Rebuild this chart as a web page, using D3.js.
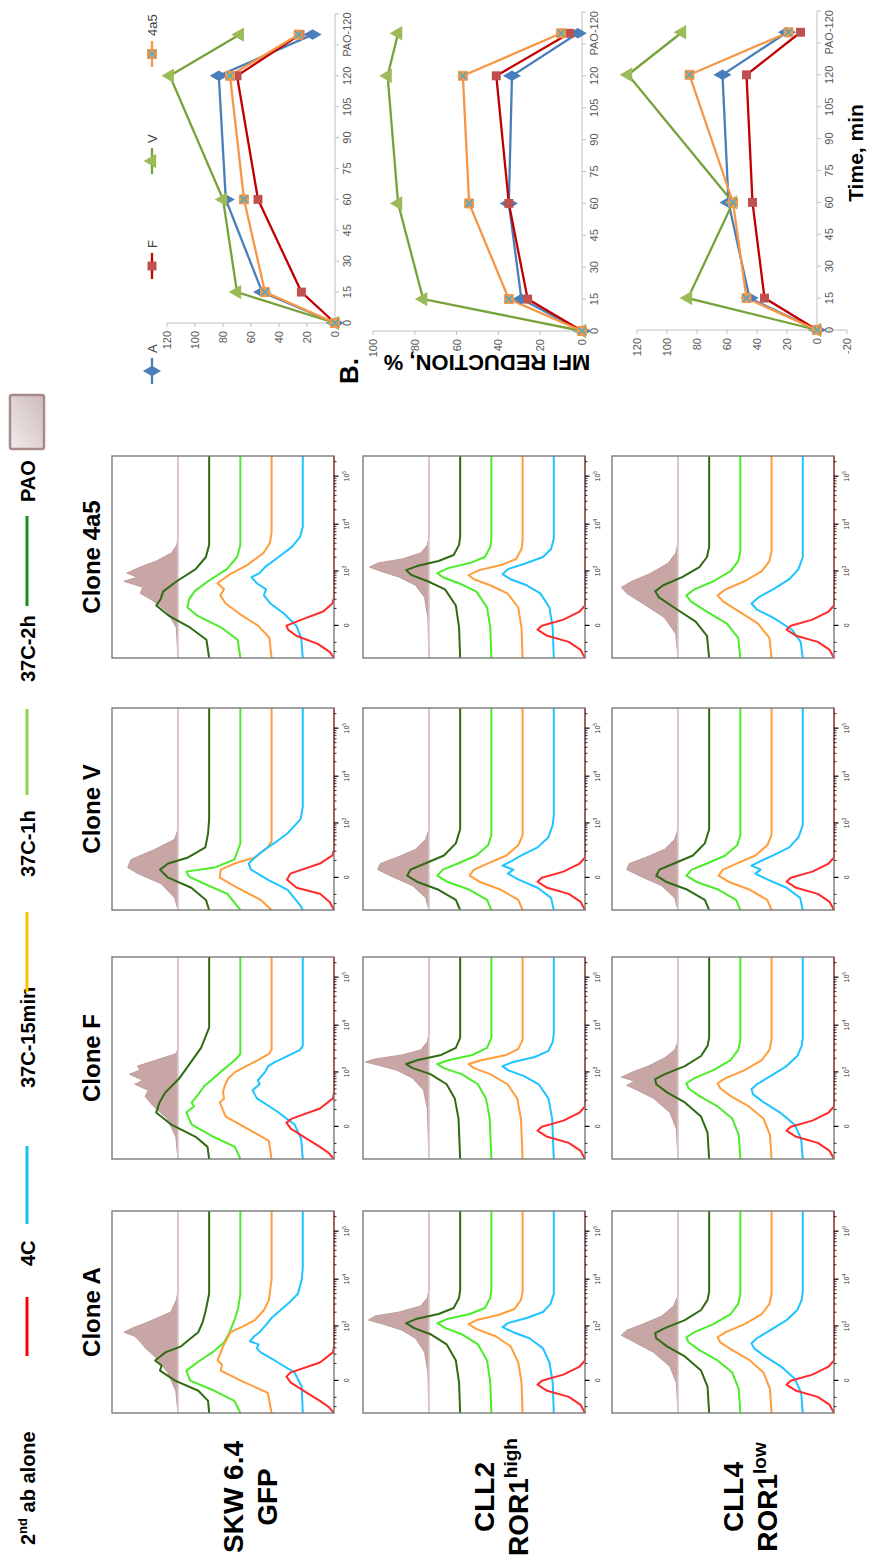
<!DOCTYPE html>
<html><head><meta charset="utf-8">
<script src="https://cdn.jsdelivr.net/npm/d3@7"></script>
<style>body{margin:0;background:#fff}svg{display:block}</style>
</head><body>
<script>
// ---------- Flow histograms (A) ----------
const legendLabels = ["2nd ab alone", "4C", "37C-15min", "37C-1h", "37C-2h", "PAO"];
const columnNames = ["Clone A", "Clone F", "Clone V", "Clone 4a5"];
const rowNames = [["SKW 6.4", "GFP", ""], ["CLL2", "ROR1", "high"], ["CLL4", "ROR1", "low"]];
const axisMajor = [0, 1e3, 1e4, 1e5];
const axisMajorExp = ["", "3", "4", "5"];
const axisMinor = [-200, -100, 100, 200, 300, 400, 500, 600, 700, 800, 900,
  2e3, 3e3, 4e3, 5e3, 6e3, 7e3, 8e3, 9e3, 2e4, 3e4, 4e4, 5e4, 6e4, 7e4, 8e4, 9e4, 2e5];

// each histogram: [channel, % of mode, ...]; order red, blue, orange, light green, dark green, PAO
const hSkwA = [
  [0,0, 30,10, 60,26, 100,50, 150,80, 180,88, 200,81, 250,26, 300,2, 330,0, 1000,0],
  [0,0, 130,2, 200,15, 260,52, 300,78, 320,85, 340,82, 355,98, 380,90, 400,80, 430,70, 470,58, 510,41, 550,24, 590,9, 660,2, 720,0, 1000,0],
  [0,0, 100,7, 160,57, 210,94, 240,92, 260,100, 300,94, 330,90, 360,84, 400,76, 430,52, 460,31, 510,14, 560,5, 660,0, 1000,0],
  [0,0, 60,11, 110,48, 160,93, 210,100, 250,80, 300,52, 350,30, 400,20, 460,11, 520,4, 590,0, 1000,0],
  [0,0, 60,2, 110,20, 160,63, 210,91, 235,88, 260,100, 300,81, 330,52, 370,34, 400,20, 450,12, 500,7, 590,0, 1000,0],
  [0,0, 110,4, 200,19, 280,43, 320,60, 350,69, 380,80, 400,100, 420,85, 450,56, 480,30, 500,13, 560,3, 600,0, 1000,0]
];
const hSkwF = [
  [0,0, 30,10, 60,26, 100,50, 150,80, 180,88, 200,78, 250,26, 300,2, 330,0, 1000,0],
  [0,0, 100,3, 170,15, 240,50, 300,85, 340,93, 370,80, 390,83, 430,70, 460,64, 480,52, 520,20, 540,5, 560,0, 1000,0],
  [0,0, 90,5, 150,45, 210,85, 280,96, 300,88, 330,90, 360,87, 400,80, 430,68, 490,25, 520,5, 540,0, 1000,0],
  [0,0, 60,10, 110,50, 170,90, 230,100, 260,86, 280,90, 320,78, 360,67, 430,37, 490,10, 520,0, 1000,0],
  [0,0, 60,3, 110,25, 170,70, 230,98, 280,92, 330,81, 400,55, 460,39, 550,15, 650,0, 1000,0],
  [0,0, 110,4, 200,20, 260,45, 310,61, 340,55, 370,80, 390,65, 420,90, 440,70, 460,75, 490,40, 520,5, 540,0, 1000,0]
];
const hSkwV = [
  [0,0, 40,8, 80,26, 110,69, 150,87, 180,81, 230,26, 270,3, 300,0, 1000,0],
  [0,0, 20,4, 100,28, 150,65, 200,96, 230,100, 260,89, 280,80, 310,65, 340,48, 380,28, 450,4, 510,0, 1000,0],
  [0,0, 50,20, 110,63, 160,96, 200,94, 230,69, 260,31, 310,7, 340,0, 1000,0],
  [0,0, 80,24, 130,67, 165,95, 190,100, 210,48, 250,11, 330,0, 1000,0],
  [0,0, 50,6, 110,33, 160,76, 200,91, 230,76, 260,39, 310,7, 380,2, 450,0, 1000,0],
  [0,0, 60,6, 130,31, 180,74, 210,93, 250,87, 300,43, 350,6, 400,0, 1000,0]
];
const hSkw4a5 = [
  [0,0, 30,8, 70,30, 110,70, 140,85, 160,88, 190,60, 230,20, 270,3, 300,0, 1000,0],
  [0,0, 100,3, 160,12, 220,35, 270,60, 310,72, 340,68, 370,85, 400,95, 420,80, 450,70, 500,45, 550,20, 600,5, 650,0, 1000,0],
  [0,0, 100,4, 160,25, 220,60, 270,85, 310,95, 340,88, 370,100, 410,80, 460,45, 520,15, 570,3, 620,0, 1000,0],
  [0,0, 90,5, 150,35, 210,80, 250,98, 290,95, 330,85, 380,60, 440,25, 500,6, 560,0, 1000,0],
  [0,0, 90,5, 150,35, 210,75, 260,98, 290,90, 330,85, 380,60, 440,25, 500,6, 560,0, 1000,0],
  [0,0, 150,3, 230,20, 290,50, 320,70, 350,65, 380,100, 400,75, 420,95, 450,70, 480,40, 520,12, 560,2, 600,0, 1000,0]
];
const hCll2A = [
  [0,0, 40,8, 80,30, 110,70, 140,88, 160,80, 190,40, 230,10, 260,0, 1000,0],
  [0,0, 150,2, 250,8, 320,20, 370,45, 400,75, 425,95, 445,85, 470,50, 500,20, 540,6, 590,0, 1000,0],
  [0,0, 150,2, 250,8, 330,22, 380,50, 415,85, 440,100, 460,85, 485,45, 515,15, 560,3, 600,0, 1000,0],
  [0,0, 150,2, 260,8, 340,25, 390,55, 420,85, 445,100, 465,82, 490,40, 520,12, 570,2, 610,0, 1000,0],
  [0,0, 150,2, 260,8, 340,25, 390,55, 420,85, 445,100, 465,82, 490,40, 520,12, 570,2, 610,0, 1000,0],
  [0,0, 200,2, 300,8, 370,25, 410,50, 440,85, 460,112, 480,100, 500,55, 530,15, 570,3, 610,0, 1000,0]
];
const hCll2F = [
  [0,0, 40,8, 80,30, 110,70, 140,88, 160,80, 190,40, 230,10, 260,0, 1000,0],
  [0,0, 200,3, 300,10, 370,28, 410,55, 440,85, 460,95, 480,75, 505,35, 535,10, 580,2, 620,0, 1000,0],
  [0,0, 200,3, 300,10, 370,28, 420,60, 450,90, 470,100, 490,75, 515,30, 545,8, 590,0, 1000,0],
  [0,0, 200,3, 300,10, 370,25, 420,55, 450,88, 470,100, 490,78, 515,35, 550,8, 600,0, 1000,0],
  [0,0, 200,3, 300,10, 370,25, 420,55, 450,88, 470,100, 490,78, 515,35, 550,8, 600,0, 1000,0],
  [0,0, 250,3, 340,10, 400,30, 440,60, 465,95, 480,118, 495,100, 515,50, 540,15, 580,3, 620,0, 1000,0]
];
const hCll2V = [
  [0,0, 40,8, 80,30, 110,70, 140,88, 160,80, 190,40, 230,10, 260,0, 1000,0],
  [0,0, 60,5, 110,30, 150,65, 180,85, 200,75, 220,95, 240,80, 270,60, 310,30, 360,10, 420,2, 470,0, 1000,0],
  [0,0, 50,8, 100,40, 140,80, 170,98, 200,90, 230,65, 270,30, 320,8, 370,0, 1000,0],
  [0,0, 50,8, 100,40, 140,82, 170,100, 200,90, 230,62, 270,28, 320,6, 370,0, 1000,0],
  [0,0, 50,8, 100,40, 140,80, 170,98, 200,92, 230,65, 270,30, 330,8, 400,0, 1000,0],
  [0,0, 60,6, 120,30, 170,72, 200,95, 230,90, 260,60, 300,25, 350,6, 400,0, 1000,0]
];
const hCll2_4a5 = [
  [0,0, 40,8, 80,30, 110,70, 140,88, 160,80, 190,40, 230,10, 260,0, 1000,0],
  [0,0, 150,2, 250,8, 320,25, 360,50, 390,80, 415,95, 440,85, 470,50, 500,20, 540,5, 590,0, 1000,0],
  [0,0, 150,2, 250,8, 320,28, 360,60, 390,90, 410,100, 435,80, 460,40, 490,12, 540,2, 580,0, 1000,0],
  [0,0, 150,2, 250,8, 330,28, 370,60, 400,90, 420,100, 445,80, 470,40, 500,12, 550,2, 590,0, 1000,0],
  [0,0, 150,2, 260,8, 340,28, 380,60, 410,90, 435,100, 455,80, 480,40, 510,12, 560,2, 600,0, 1000,0],
  [0,0, 200,2, 300,8, 360,25, 400,55, 430,90, 450,110, 470,95, 490,50, 520,15, 560,3, 600,0, 1000,0]
];
const hCll4A = [
  [0,0, 40,8, 80,30, 110,70, 140,88, 160,80, 190,40, 230,10, 260,0, 1000,0],
  [0,0, 100,3, 170,15, 230,40, 280,70, 320,90, 345,95, 370,85, 410,60, 460,30, 510,10, 560,2, 600,0, 1000,0],
  [0,0, 120,3, 200,15, 260,40, 310,72, 350,95, 375,100, 400,85, 440,50, 490,18, 540,4, 590,0, 1000,0],
  [0,0, 120,3, 200,15, 260,42, 310,75, 350,96, 375,100, 400,85, 440,50, 490,18, 540,4, 590,0, 1000,0],
  [0,0, 130,3, 210,15, 280,45, 330,78, 370,98, 395,100, 420,82, 460,45, 510,15, 560,3, 600,0, 1000,0],
  [0,0, 150,3, 230,15, 300,45, 350,80, 385,105, 410,95, 440,65, 480,30, 530,8, 580,0, 1000,0]
];
const hCll4F = [
  [0,0, 40,8, 80,30, 110,70, 140,88, 160,80, 190,40, 230,10, 260,0, 1000,0],
  [0,0, 100,3, 170,15, 230,42, 280,72, 320,92, 345,95, 370,85, 410,60, 460,30, 510,10, 560,2, 600,0, 1000,0],
  [0,0, 120,3, 200,15, 260,42, 310,75, 350,95, 375,100, 400,85, 440,50, 490,18, 540,4, 590,0, 1000,0],
  [0,0, 120,3, 200,15, 260,42, 310,75, 350,96, 375,100, 400,85, 440,50, 490,18, 540,4, 590,0, 1000,0],
  [0,0, 130,3, 210,15, 280,45, 330,78, 370,98, 395,100, 420,82, 460,45, 510,15, 560,3, 600,0, 1000,0],
  [0,0, 150,3, 230,15, 300,45, 340,75, 365,95, 385,80, 405,105, 430,85, 460,55, 500,25, 540,6, 580,0, 1000,0]
];
const hCll4V = [
  [0,0, 40,8, 80,30, 110,70, 140,88, 160,80, 190,40, 230,10, 260,0, 1000,0],
  [0,0, 60,5, 110,30, 150,65, 180,88, 200,78, 220,95, 240,80, 270,55, 310,25, 360,8, 420,0, 1000,0],
  [0,0, 50,8, 100,40, 140,80, 170,98, 200,90, 230,65, 270,30, 320,8, 370,0, 1000,0],
  [0,0, 50,8, 100,40, 140,82, 170,100, 200,90, 230,62, 270,28, 320,6, 370,0, 1000,0],
  [0,0, 50,8, 100,40, 140,80, 170,98, 200,92, 230,65, 270,30, 330,8, 400,0, 1000,0],
  [0,0, 60,6, 120,30, 170,72, 200,95, 230,90, 260,60, 300,25, 350,6, 400,0, 1000,0]
];
const hCll4_4a5 = [
  [0,0, 40,8, 80,30, 110,70, 140,88, 160,80, 190,40, 230,10, 260,0, 1000,0],
  [0,0, 80,4, 140,20, 200,55, 240,85, 270,95, 300,82, 340,55, 390,25, 440,8, 500,0, 1000,0],
  [0,0, 100,4, 170,25, 230,60, 280,90, 310,100, 340,85, 380,50, 430,18, 480,4, 530,0, 1000,0],
  [0,0, 100,4, 170,25, 230,62, 280,92, 310,100, 340,85, 380,50, 430,18, 480,4, 530,0, 1000,0],
  [0,0, 110,4, 180,25, 250,65, 300,93, 330,100, 360,85, 400,50, 450,18, 500,4, 550,0, 1000,0],
  [0,0, 120,4, 200,25, 270,65, 320,95, 350,105, 380,85, 420,50, 470,18, 520,4, 570,0, 1000,0]
];
const histRows = [
  [hSkwA, hSkwF, hSkwV, hSkw4a5],
  [hCll2A, hCll2F, hCll2V, hCll2_4a5],
  [hCll4A, hCll4F, hCll4V, hCll4_4a5]
];

// ---------- MFI reduction time course (B) ----------
const bSeriesNames = ["A", "F", "V", "4a5"];
const bTimes = [0, 15, 60, 120, 140];
const bTimeTicks = [0, 15, 30, 45, 60, 75, 90, 105, 120];
const bPaoLabel = "PAO-120";
const mfiSkwA = [0, 52, 78, 83, 16];
const mfiSkwF = [0, 24, 55, 70, 25];
const mfiSkwV = [0, 70, 80, 118, 68];
const mfiSkw4a5 = [0, 50, 65, 75, 26];
const mfiCll2A = [0, 29, 35, 33.5, 2];
const mfiCll2F = [0, 26, 35, 41, 6];
const mfiCll2V = [0, 76, 88, 93, 88];
const mfiCll2_4a5 = [0, 35, 54, 57, 10];
const mfiCll4A = [0, 45, 59, 63, 20];
const mfiCll4F = [0, 35, 43, 47, 11];
const mfiCll4V = [0, 86, 56, 126, 90];
const mfiCll4_4a5 = [0, 47, 56, 85, 19];
const bValueTicks = [[0, 20, 40, 60, 80, 100, 120], [0, 20, 40, 60, 80, 100], [-20, 0, 20, 40, 60, 80, 100, 120]];

// ---------- drawing ----------
const FONT = "Liberation Sans, Arial, sans-serif";
const svg = d3.select("body").append("svg").attr("width", 869).attr("height", 1562);
svg.append("rect").attr("width", 869).attr("height", 1562).attr("fill", "#fff");
// the whole figure is laid out in landscape and turned a quarter turn
const g = svg.append("g").attr("transform", "translate(0,1562) rotate(-90)").attr("font-family", FONT);

const curveColors = ["#ff2a2a", "#1ec4ff", "#ff9d3a", "#4cec2a", "#2f6b12"];
const legendColors = ["#ff0000", "#19bdf2", "#ffc000", "#92d050", "#1a8c1a"];

// legend row
const legendText = [17, 296, 474, 685, 880, 1060];
const legendLine = [[206, 265], [338, 416], [570, 650], [767, 853], [956, 1046]];
legendLabels.forEach((lab, i) => {
  const t = g.append("text").attr("x", legendText[i]).attr("y", 35)
    .attr("font-size", 20).attr("font-weight", "bold").attr("fill", "#000");
  if (i === 0) {
    t.append("tspan").text("2");
    t.append("tspan").text("nd").attr("font-size", 13).attr("dy", -8);
    t.append("tspan").text(" ab alone").attr("dy", 8);
  } else t.text(lab);
  if (i < 5) g.append("line").attr("x1", legendLine[i][0]).attr("x2", legendLine[i][1])
    .attr("y1", 27).attr("y2", 27).attr("stroke", legendColors[i]).attr("stroke-width", 3);
});
const grad = svg.append("defs").append("linearGradient").attr("id", "paoGrad")
  .attr("x1", 0).attr("y1", 0).attr("x2", 1).attr("y2", 1);
grad.append("stop").attr("offset", 0).attr("stop-color", "#f1eaea");
grad.append("stop").attr("offset", 1).attr("stop-color", "#cdbcbc");
g.append("rect").attr("x", 1113).attr("y", 10).attr("width", 54).attr("height", 34)
  .attr("rx", 2).attr("fill", "url(#paoGrad)").attr("stroke", "#a88a8a").attr("stroke-width", 2.5);

// panel grid
const colX = [149, 403, 652, 904];
const rowY = [112, 363, 612];
const PW = 202, PH = 222;
const stackStep = 57.8;            // baseline offset between stacked histograms (% units)
const fl = d3.scaleSymlog().constant(80).domain([-300, 262144]).range([0, 1000]);

columnNames.forEach((c, i) => {
  g.append("text").attr("x", colX[i] + PW / 2).attr("y", 100).attr("text-anchor", "middle")
    .attr("font-size", 24).attr("font-weight", "bold").text(c);
});
rowNames.forEach((r, i) => {
  const cy = rowY[i] + PH / 2;
  g.append("text").attr("x", 65).attr("y", cy + 20).attr("text-anchor", "middle")
    .attr("font-size", 28).attr("font-weight", "bold").text(r[0]);
  const t2 = g.append("text").attr("x", 65).attr("y", cy + 54).attr("text-anchor", "middle")
    .attr("font-size", 28).attr("font-weight", "bold");
  t2.append("tspan").text(r[1]);
  if (r[2]) t2.append("tspan").text(r[2]).attr("font-size", 19).attr("dy", -11);
});

const pairs = a => d3.range(0, a.length, 2).map(i => [a[i], a[i + 1]]);

histRows.forEach((row, ri) => {
  row.forEach((panel, ci) => {
    const x0 = colX[ci], y0 = rowY[ri];
    const xs = d3.scaleLinear().domain([0, 1000]).range([x0, x0 + PW]);
    const ys = d3.scaleLinear().domain([0, PH / 0.54]).range([y0 + PH, y0]);
    const pg = g.append("g");
    // PAO filled histogram on top of the stack
    const bP = 5 * stackStep;
    pg.append("path").datum(pairs(panel[5]))
      .attr("d", d3.area().x(d => xs(d[0])).y0(ys(bP)).y1(d => ys(d[1] + bP)))
      .attr("fill", "#c9a6a6").attr("stroke", "#bf9d9d").attr("stroke-width", 1);
    pg.append("line").attr("x1", x0).attr("x2", x0 + PW).attr("y1", ys(bP)).attr("y2", ys(bP))
      .attr("stroke", "#e2d0d0").attr("stroke-width", 1.3);
    for (let k = 4; k >= 0; k--) {
      const b = k * stackStep;
      pg.append("path").datum(pairs(panel[k]))
        .attr("d", d3.line().x(d => xs(d[0])).y(d => ys(d[1] + b)))
        .attr("fill", "none").attr("stroke", curveColors[k]).attr("stroke-width", 2)
        .attr("stroke-linejoin", "round");
    }
    pg.append("rect").attr("x", x0).attr("y", y0).attr("width", PW).attr("height", PH)
      .attr("fill", "none").attr("stroke", "#7a7a7a").attr("stroke-width", 1.4);
    // biexponential axis ticks
    axisMinor.forEach(v => pg.append("line").attr("x1", xs(fl(v))).attr("x2", xs(fl(v)))
      .attr("y1", y0 + PH).attr("y2", y0 + PH + 2.5).attr("stroke", "#000").attr("stroke-width", 0.8));
    axisMajor.forEach((v, j) => {
      pg.append("line").attr("x1", xs(fl(v))).attr("x2", xs(fl(v)))
        .attr("y1", y0 + PH).attr("y2", y0 + PH + 4.5).attr("stroke", "#000").attr("stroke-width", 1.2);
      const t = pg.append("text").attr("x", xs(fl(v))).attr("y", y0 + PH + 15)
        .attr("text-anchor", "middle").attr("font-size", 7).attr("fill", "#333");
      if (j === 0) t.text("0");
      else { t.append("tspan").text("10"); t.append("tspan").text(axisMajorExp[j]).attr("font-size", 5).attr("dy", -3); }
    });
  });
});

// ---------- B charts ----------
const bData = [
  [mfiSkwA, mfiSkwF, mfiSkwV, mfiSkw4a5],
  [mfiCll2A, mfiCll2F, mfiCll2V, mfiCll2_4a5],
  [mfiCll4A, mfiCll4F, mfiCll4V, mfiCll4_4a5]
];
const bLayout = [
  {tx0: 1239, tx1: 1548, vy0: 335, vyTop: 167, vTop: 120},
  {tx0: 1231, tx1: 1550, vy0: 582, vyTop: 373, vTop: 100},
  {tx0: 1232, tx1: 1551, vy0: 817, vyTop: 637, vTop: 120}
];
const bLine = ["#4a7ebb", "#c00000", "#77a23a", "#f79646"];
const bMark = ["#4a7ebb", "#c0504d", "#9bbb59", "#f79646"];
const bSym = [d3.symbolDiamond, d3.symbolSquare, d3.symbolTriangle, d3.symbolSquare];

function marker(sel, k, x, y) {
  sel.append("path").attr("transform", `translate(${x},${y})`)
    .attr("d", d3.symbol(bSym[k], k === 0 ? 95 : k === 2 ? 90 : 80)())
    .attr("fill", bMark[k]).attr("stroke", k === 3 ? "#f79646" : "none");
  if (k === 3) sel.append("path").attr("transform", `translate(${x},${y})`)
    .attr("d", "M-3.5,-3.5L3.5,3.5M-3.5,3.5L3.5,-3.5").attr("stroke", "#4bacc6").attr("stroke-width", 1.6);
}

bData.forEach((series, ci) => {
  const L = bLayout[ci];
  const xt = d3.scaleLinear().domain([0, 150]).range([L.tx0, L.tx1]);
  const yv = d3.scaleLinear().domain([0, L.vTop]).range([L.vy0, L.vyTop]);
  const cg = g.append("g");
  const vt = bValueTicks[ci];
  // value axis
  cg.append("line").attr("x1", xt(0)).attr("x2", xt(0)).attr("y1", yv(d3.min(vt))).attr("y2", yv(d3.max(vt)))
    .attr("stroke", "#bfbfbf");
  vt.forEach(v => {
    cg.append("line").attr("x1", xt(0) - 4).attr("x2", xt(0)).attr("y1", yv(v)).attr("y2", yv(v)).attr("stroke", "#bfbfbf");
    cg.append("text").attr("x", xt(0) - 8).attr("y", yv(v) + 4).attr("text-anchor", "end")
      .attr("font-size", 11).attr("fill", "#595959").text(v);
  });
  // time axis
  cg.append("line").attr("x1", xt(0)).attr("x2", xt(150)).attr("y1", yv(0)).attr("y2", yv(0)).attr("stroke", "#bfbfbf");
  d3.range(0, 151, 15).forEach(t => cg.append("line").attr("x1", xt(t)).attr("x2", xt(t))
    .attr("y1", yv(0)).attr("y2", yv(0) + 4).attr("stroke", "#bfbfbf"));
  bTimeTicks.forEach(t => cg.append("text").attr("x", xt(t)).attr("y", yv(0) + 16)
    .attr("text-anchor", "middle").attr("font-size", 11).attr("fill", "#595959").text(t));
  cg.append("text").attr("x", xt(bTimes[4])).attr("y", yv(0) + 16).attr("text-anchor", "middle")
    .attr("font-size", 11).attr("fill", "#595959").text(bPaoLabel);
  series.forEach((vals, k) => {
    const pts = bTimes.map((t, i) => [xt(t), yv(vals[i])]);
    cg.append("path").attr("d", d3.line()(pts)).attr("fill", "none").attr("stroke", bLine[k]).attr("stroke-width", 2.3);
  });
  series.forEach((vals, k) => bTimes.forEach((t, i) => marker(cg, k, xt(t), yv(vals[i]))));
});

// B legend and titles
const bLegendX = [1178, 1283, 1388, 1495];
bSeriesNames.forEach((n, k) => {
  const lx = bLegendX[k];
  g.append("line").attr("x1", lx).attr("x2", lx + 26).attr("y1", 152).attr("y2", 152)
    .attr("stroke", bLine[k]).attr("stroke-width", 2.3);
  marker(g, k, lx + 13, 152);
  g.append("text").attr("x", lx + 31).attr("y", 157).attr("font-size", 13).attr("fill", "#404040").text(n);
});
g.append("text").attr("x", 1178).attr("y", 358).attr("font-size", 26).attr("font-weight", "bold").text("B.");
g.append("text").attr("transform", "translate(1207,487) rotate(-90)").attr("text-anchor", "middle")
  .attr("font-size", 22).attr("font-weight", "bold").text("MFI REDUCTION, %");
g.append("text").attr("x", 1409).attr("y", 863).attr("text-anchor", "middle")
  .attr("font-size", 21).attr("font-weight", "bold").text("Time, min");
</script>
</body></html>
